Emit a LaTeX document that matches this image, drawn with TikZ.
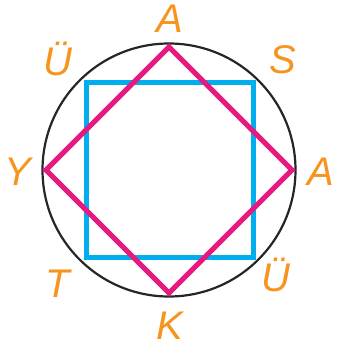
\documentclass[tikz,border=0pt]{standalone}
\usepackage{fontspec}
\setmainfont{Liberation Sans}
\definecolor{harfturuncu}{HTML}{F7941D}
\definecolor{karemavi}{HTML}{00AEEF}
\definecolor{karepembe}{HTML}{E5197E}

\begin{document}
\begin{tikzpicture}[x=1pt, y=-1pt,
  harf/.style={font=\fontsize{40}{42}\selectfont\itshape, text=harfturuncu, inner sep=0pt}]
  \useasboundingbox (0,0) rectangle (338,353);

  % cember
  \draw[line width=2.2pt, black!85] (169,170) circle (126.5);

  % mavi kare
  \draw[line width=5pt, karemavi] (86.5,82.5) rectangle (253,257);

  % pembe kare (eskenar dortgen)
  \coordinate (ust) at (169,47);
  \coordinate (sag) at (292,170);
  \coordinate (alt) at (169,293);
  \coordinate (sol) at (46,170);
  \draw[line width=5pt, karepembe, line join=miter] (ust) -- (sag) -- (alt) -- (sol) -- cycle;

  % harfler
  \node[harf] (a1) at (170,19) {A};
  \node[harf] (s) at (283,60) {S};
  \node[harf] (a2) at (321,172) {A};
  \node[harf] (u2) at (276,275) {Ü};
  \node[harf] (k) at (170,326) {K};
  \node[harf] (t) at (58,284) {T};
  \node[harf] (y) at (18,172) {Y};
  \node[harf] (u1) at (58,59) {Ü};
\end{tikzpicture}
\end{document}
